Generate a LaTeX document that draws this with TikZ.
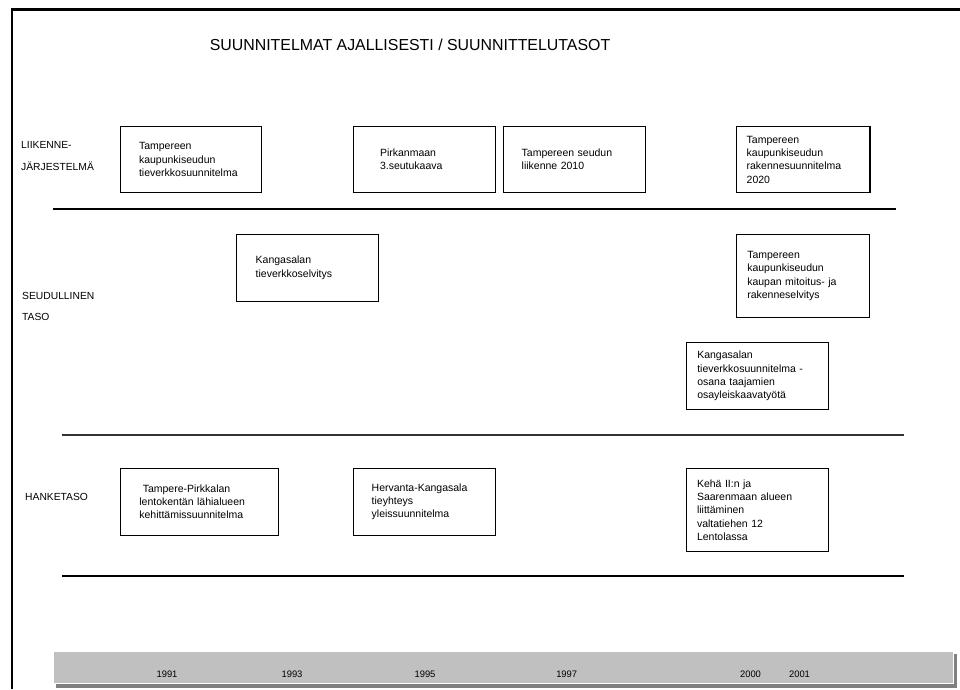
\documentclass[tikz,border=0pt]{standalone}
\usepackage{fontspec}
\setmainfont{Liberation Sans}
\definecolor{palkki}{RGB}{192,192,192}
\definecolor{varjo}{RGB}{128,128,128}
\tikzset{
  laatikko/.style={draw, line width=1.1pt, align=left, inner ysep=0pt,
    font=\fontsize{10.5}{13.3}\selectfont},
  taso/.style={anchor=west, align=left, inner sep=0pt,
    font=\fontsize{10.3}{21.7}\selectfont},
  vuosi/.style={font=\fontsize{9.4}{11}\selectfont}
}
\begin{document}
\begin{tikzpicture}[x=1pt,y=-1pt]
\useasboundingbox (0,0) rectangle (960,689);

% Kehys ja otsikko
\draw[line width=2.4pt] (12.2,689) |- (960,9.5);
\node (otsikko) at (410,45) {\fontsize{15.9}{19}\selectfont SUUNNITELMAT AJALLISESTI / SUUNNITTELUTASOT};

% Tasot
\node[taso] (liikennejarj) at (21,155.8) {LIIKENNE-\\JÄRJESTELMÄ};
\node[taso] (seudullinen) at (22,306.3) {SEUDULLINEN\\TASO};
\node[taso] (hanketaso) at (25,496.7) {HANKETASO};

\draw[line width=1.2pt] (53,209) -- (896,209);
\draw[line width=1.5pt, black!80] (62,435) -- (904,435);
\draw[line width=1.2pt] (62,576) -- (904,576);

% Liikennejärjestelmä
\node[laatikko, minimum height=66, inner xsep=18.3, text width=104.4] (tieverkko) at (191.2,159.7)
{Tampereen\\kaupunkiseudun\\tieverkkosuunnitelma};
\node[laatikko, minimum height=66.3, inner xsep=26.7, text width=89] (seutukaava) at (424.5,159.2)
{Pirkanmaan\\3.seutukaava};
\node[laatikko, minimum height=66.3, inner xsep=18.4, text width=105.6] (liikenne) at (574.5,159.2)
{Tampereen seudun\\liikenne 2010};
\node[laatikko, minimum height=66.3, inner xsep=10, text width=113.3] (rakenne) at (803.3,159.5)
{Tampereen\\kaupunkiseudun\\rakennesuunnitelma\\2020};

% Seudullinen taso
\node[laatikko, minimum height=66.7, inner xsep=19, text width=103.6] (kangasalaselv) at (307.5,267.7)
{Kangasalan\\tieverkkoselvitys};
\node[laatikko, minimum height=83.4, inner xsep=10.6, text width=112] (kauppa) at (803.3,276)
{Tampereen\\kaupunkiseudun\\kaupan mitoitus- ja\\rakenneselvitys};
\node[laatikko, minimum height=66.6, inner xsep=10.6, text width=120.4] (kangasalasuun) at (757.5,376)
{Kangasalan\\tieverkkosuunnitelma -\\osana taajamien\\osayleiskaavatyötä};

% Hanketaso
\node[laatikko, minimum height=66.7, inner xsep=19.3, text width=119.7] (lentokentta) at (199.2,501.7)
{\hspace{3.4pt}Tampere-Pirkkalan\\lentokentän lähialueen\\kehittämissuunnitelma};
\node[laatikko, minimum height=66.7, inner xsep=18.4, text width=105.6] (hervanta) at (424.5,501.7)
{Hervanta-Kangasala\\tieyhteys\\yleissuunnitelma};
\node[laatikko, minimum height=83.4, inner xsep=10.3, text width=121] (keha) at (757.5,510)
{Kehä II:n ja\\Saarenmaan alueen\\liittäminen\\valtatiehen 12\\Lentolassa};

% Aikajana
\fill[varjo] (56,654) rectangle (957,688);
\fill[white] (54,652) rectangle (954.3,684.3);
\fill[palkki] (54,652) rectangle (953,683);
\foreach \x/\v in {167/1991,292/1993,425/1995,566.7/1997,750.5/2000,799.5/2001}
{
    \node[vuosi] (v\v) at (\x,674) {\v};
}

\end{tikzpicture}
\end{document}
